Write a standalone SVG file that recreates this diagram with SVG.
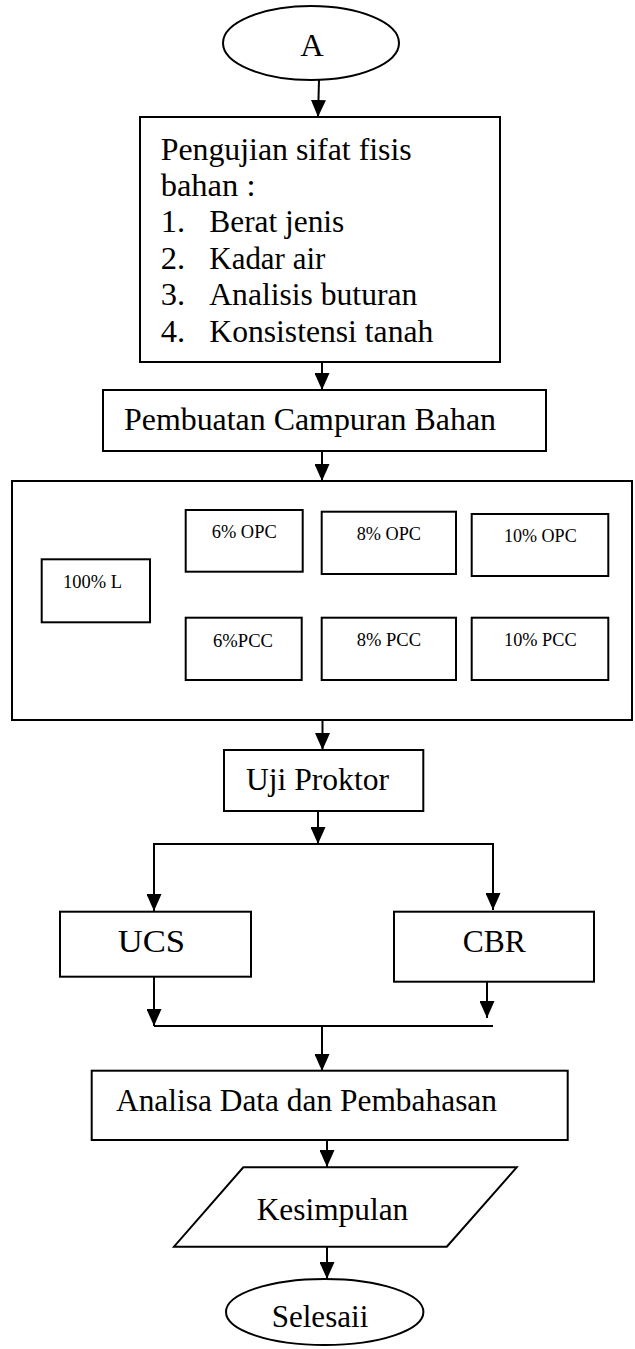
<svg xmlns="http://www.w3.org/2000/svg" width="635" height="1349" viewBox="0 0 635 1349">
<style>
.box{fill:#fff;stroke:#000;stroke-width:2}
.sbox{fill:#fff;stroke:#000;stroke-width:2}
.t{font-family:"Liberation Serif","Times New Roman",serif;font-size:32.5px;fill:#000}
.s{font-family:"Liberation Serif","Times New Roman",serif;font-size:19.5px;fill:#000}
.c{stroke:#000;stroke-width:2;fill:none}
.ca{stroke:#000;stroke-width:2;fill:none;marker-end:url(#ah)}
</style>
<defs>
<marker id="ah" markerUnits="userSpaceOnUse" markerWidth="17" markerHeight="15" refX="17" refY="7.5" orient="auto">
<path d="M0,0 L17,7.5 L0,15 z" fill="#000"/>
</marker>
</defs>
<rect width="635" height="1349" fill="#fff"/>
<g id="connectors">
<line class="ca" x1="319" y1="80" x2="318" y2="117"/>
<line class="ca" x1="322" y1="362" x2="322" y2="390"/>
<line class="ca" x1="322" y1="451" x2="322" y2="481"/>
<line class="ca" x1="322.5" y1="720" x2="322.5" y2="750"/>
<line class="ca" x1="318" y1="811" x2="318" y2="844"/>
<line class="c" x1="154" y1="844" x2="493" y2="844"/>
<line class="ca" x1="154" y1="843" x2="154" y2="911"/>
<line class="ca" x1="493" y1="843" x2="493" y2="910"/>
<line class="ca" x1="154" y1="977" x2="154" y2="1026"/>
<line class="ca" x1="487" y1="974" x2="487" y2="1018"/>
<line class="c" x1="154" y1="1026" x2="493" y2="1026"/>
<line class="ca" x1="322" y1="1026" x2="322" y2="1071"/>
<line class="ca" x1="327" y1="1140" x2="327" y2="1167"/>
<line class="ca" x1="327" y1="1247" x2="327" y2="1279"/>
</g>
<g id="start">
<ellipse class="box" cx="311" cy="43" rx="88" ry="37"/>
<text class="t" x="312" y="56" text-anchor="middle">A</text>
</g>
<g id="pengujian">
<rect class="box" x="140" y="117" width="360" height="245"/>
<text class="t" x="160.7" y="160" textLength="251" lengthAdjust="spacingAndGlyphs">Pengujian sifat fisis</text>
<text class="t" x="160.7" y="196">bahan :</text>
<text class="t" x="160.7" y="232">1.</text>
<text class="t" x="209.3" y="232" textLength="135" lengthAdjust="spacingAndGlyphs">Berat jenis</text>
<text class="t" x="160.7" y="268.5">2.</text>
<text class="t" x="209.3" y="268.5" textLength="116" lengthAdjust="spacingAndGlyphs">Kadar air</text>
<text class="t" x="160.7" y="305">3.</text>
<text class="t" x="209.3" y="305" textLength="208" lengthAdjust="spacingAndGlyphs">Analisis buturan</text>
<text class="t" x="160.7" y="341.7">4.</text>
<text class="t" x="209.3" y="341.7" textLength="224" lengthAdjust="spacingAndGlyphs">Konsistensi tanah</text>
</g>
<g id="pembuatan">
<rect class="box" x="103" y="390" width="443" height="61"/>
<text class="t" x="124" y="430" textLength="372" lengthAdjust="spacingAndGlyphs">Pembuatan Campuran Bahan</text>
</g>
<g id="campuran">
<rect class="box" x="12" y="481" width="620" height="239"/>
<g id="n100L">
<rect class="sbox" x="41.7" y="559.3" width="108.3" height="63"/>
<text class="s" x="63" y="588" textLength="59" lengthAdjust="spacingAndGlyphs">100% L</text>
</g>
<g id="n6opc">
<rect class="sbox" x="185.7" y="510" width="117" height="61.7"/>
<text class="s" x="211.7" y="538" textLength="65" lengthAdjust="spacingAndGlyphs">6% OPC</text>
</g>
<g id="n8opc">
<rect class="sbox" x="321.7" y="511.7" width="134.3" height="62.3"/>
<text class="s" x="356.7" y="540" textLength="64.3" lengthAdjust="spacingAndGlyphs">8% OPC</text>
</g>
<g id="n10opc">
<rect class="sbox" x="471.7" y="514" width="136.6" height="62"/>
<text class="s" x="504" y="542.3" textLength="72.7" lengthAdjust="spacingAndGlyphs">10% OPC</text>
</g>
<g id="n6pcc">
<rect class="sbox" x="185.7" y="617.7" width="116" height="62.3"/>
<text class="s" x="213" y="646.5" textLength="60" lengthAdjust="spacingAndGlyphs">6%PCC</text>
</g>
<g id="n8pcc">
<rect class="sbox" x="321.7" y="617.7" width="134.3" height="62.3"/>
<text class="s" x="356.7" y="646" textLength="64.3" lengthAdjust="spacingAndGlyphs">8% PCC</text>
</g>
<g id="n10pcc">
<rect class="sbox" x="471.7" y="617.7" width="136.6" height="62.3"/>
<text class="s" x="504" y="646" textLength="72.7" lengthAdjust="spacingAndGlyphs">10% PCC</text>
</g>
</g>
<g id="proktor">
<rect class="box" x="224" y="750" width="199.3" height="61"/>
<text class="t" x="246" y="790" textLength="143" lengthAdjust="spacingAndGlyphs">Uji Proktor</text>
</g>
<g id="ucs">
<rect class="box" x="60" y="911.7" width="191" height="65"/>
<text class="t" x="117.7" y="951.7" textLength="67.3" lengthAdjust="spacingAndGlyphs">UCS</text>
</g>
<g id="cbr">
<rect class="box" x="394" y="911.7" width="200" height="70"/>
<text class="t" x="462.7" y="951.7" textLength="63" lengthAdjust="spacingAndGlyphs">CBR</text>
</g>
<g id="analisa">
<rect class="box" x="91.7" y="1070.7" width="476" height="69.3"/>
<text class="t" x="116" y="1111" textLength="381" lengthAdjust="spacingAndGlyphs">Analisa Data dan Pembahasan</text>
</g>
<g id="kesimpulan">
<polygon class="box" points="243.3,1167.3 516.7,1167.3 446.8,1246.7 174,1246.7"/>
<text class="t" x="256.7" y="1220" textLength="151.6" lengthAdjust="spacingAndGlyphs">Kesimpulan</text>
</g>
<g id="selesai">
<ellipse class="box" cx="324.7" cy="1312" rx="98.7" ry="33"/>
<text class="t" x="271.7" y="1326.7" textLength="96.6" lengthAdjust="spacingAndGlyphs">Selesaii</text>
</g>
</svg>
